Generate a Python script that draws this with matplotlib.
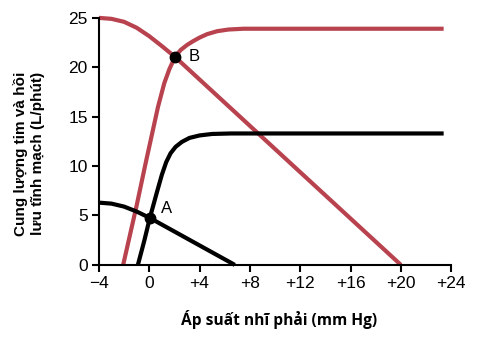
import matplotlib
matplotlib.use("Agg")
import matplotlib.pyplot as plt

# Right atrial pressure (mm Hg) vs. flow (L/min)
co_normal_x = [-0.9, -0.4, 0.05, 0.6, 1.0, 1.35, 1.7, 2.1, 2.6, 3.2, 4.0, 5.0, 6.5, 23.4]
co_normal_y = [0.0, 2.4, 4.75, 7.3, 9.1, 10.4, 11.3, 11.95, 12.45, 12.85, 13.1, 13.25, 13.3, 13.3]

vr_normal_x = [-4, -3, -2, -1, 0.05, 6.8]
vr_normal_y = [6.3, 6.2, 5.9, 5.4, 4.75, 0.0]

co_high_x = [-2.07, -1.0, -0.3, 0.2, 0.7, 1.2, 1.6, 2.05, 2.5, 3.0, 3.5, 4.0, 4.6, 5.4, 6.3, 7.5, 23.4]
co_high_y = [0.0, 6.0, 10.2, 13.1, 16.0, 18.4, 19.8, 21.05, 21.75, 22.25, 22.65, 23.0, 23.35, 23.65, 23.82, 23.9, 23.9]

vr_high_x = [-4, -3, -2, -1, 0, 1, 2.05, 20.0]
vr_high_y = [25.0, 24.9, 24.6, 24.0, 23.15, 22.15, 21.05, 0.0]

points = {"A": (0.05, 4.75), "B": (2.05, 21.05)}
label_offsets = {"A": (0.85, 0.95), "B": (1.05, 0.05)}

xticks = [-4, 0, 4, 8, 12, 16, 20, 24]
xticklabels = ["\u22124", "0", "+4", "+8", "+12", "+16", "+20", "+24"]
yticks = [0, 5, 10, 15, 20, 25]

red = "#b8434f"

fig = plt.figure(figsize=(4.8, 3.37), dpi=100)
ax = fig.add_axes([0.206, 0.214, 0.734, 0.733])

for xs, ys, c in [(co_high_x, co_high_y, red), (vr_high_x, vr_high_y, red),
                  (co_normal_x, co_normal_y, "black"), (vr_normal_x, vr_normal_y, "black")]:
    ax.plot(xs, ys, color=c, lw=3.0, clip_on=False, solid_capstyle="butt",
            solid_joinstyle="round")

for name, (px, py) in points.items():
    ax.plot(px, py, "o", color="black", ms=7.5, zorder=5, clip_on=False)
    dx, dy = label_offsets[name]
    ax.text(px + dx, py + dy, name, fontsize=12, family="Liberation Sans",
            va="center", ha="left")

ax.set_xlim(-4, 24)
ax.set_ylim(0, 25)
ax.set_xticks(xticks)
ax.set_xticklabels(xticklabels)
ax.set_yticks(yticks)
for lbl in ax.get_xticklabels() + ax.get_yticklabels():
    lbl.set_family("Liberation Sans")
    lbl.set_fontsize(12.5)

for s in ["top", "right"]:
    ax.spines[s].set_visible(False)
for s in ["left", "bottom"]:
    ax.spines[s].set_linewidth(1.5)
ax.tick_params(direction="out", length=5, width=1.5, pad=3)

ax.set_xlabel("Áp suất nhĩ phải (mm Hg)", family="Open Sans", fontweight="bold",
              fontsize=11.2, va="center")
ax.xaxis.set_label_coords(0.511, -0.223)
ax.set_ylabel("Cung lượng tim và hồi\nlưu tĩnh mạch (L/phút)", family="Liberation Sans",
              fontweight="bold", fontsize=11, linespacing=1.3, va="center")
ax.yaxis.set_label_coords(-0.199, 0.45)

fig.savefig("out.png", dpi=100)
